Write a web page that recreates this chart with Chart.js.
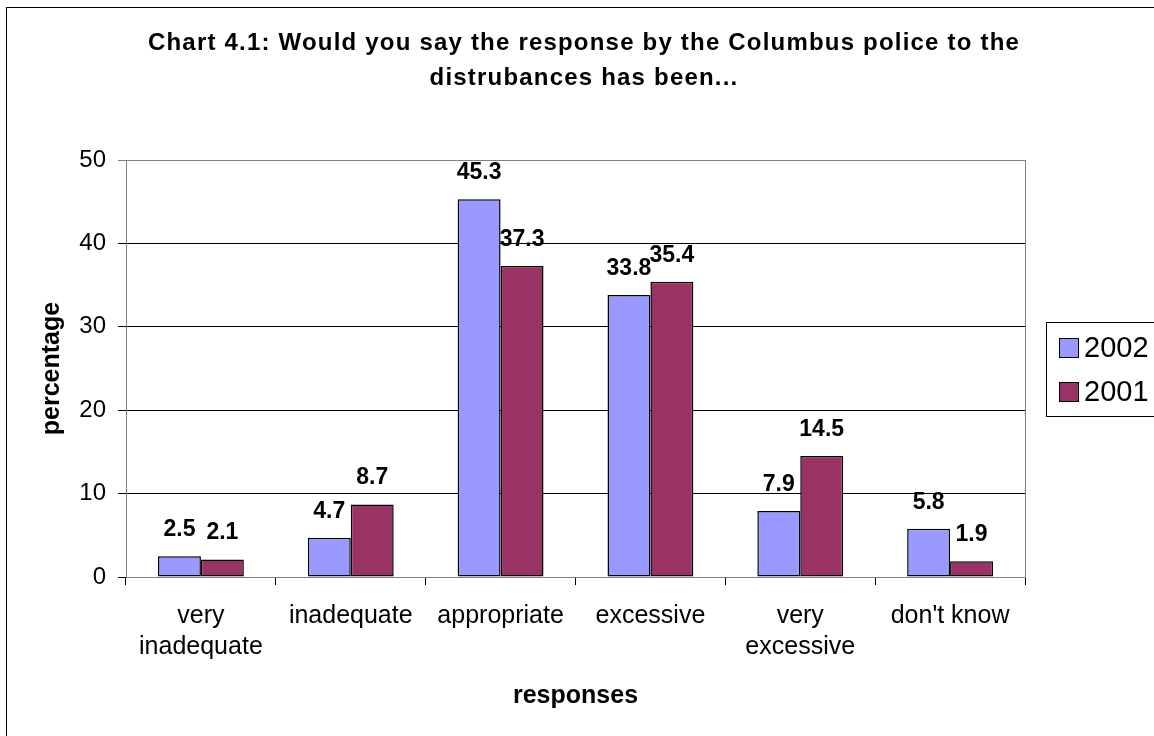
<!DOCTYPE html>
<html>
<head>
<meta charset="utf-8">
<script src="https://cdn.jsdelivr.net/npm/chart.js@4.4.1/dist/chart.umd.min.js"></script>
<style>
    html, body { margin: 0; padding: 0; background: #fff; }
    #wrap { width: 1154px; height: 736px; }
</style>
</head>
<body>
<div id="wrap"><canvas id="chart" width="1154" height="736"></canvas></div>
<script>
const categories = [["very", "inadequate"], "inadequate", "appropriate", "excessive", ["very", "excessive"], "don't know"];
const values2002 = [2.5, 4.7, 45.3, 33.8, 7.9, 5.8];
const values2001 = [2.1, 8.7, 37.3, 35.4, 14.5, 1.9];
const seriesNames = ["2002", "2001"];
const seriesColors = ["#9999FF", "#993366"];
const titleLines = ["Chart 4.1: Would you say the response by the Columbus police to the", "distrubances has been..."];

const FONT = "'Liberation Sans', Arial, sans-serif";

// white page with the chart's frame (only left/top edges are visible)
const frame = {
    id: "frame",
    beforeDraw(chart) {
        const ctx = chart.ctx;
        ctx.save();
        ctx.fillStyle = "#fff";
        ctx.fillRect(0, 0, chart.width, chart.height);
        ctx.strokeStyle = "#000";
        ctx.lineWidth = 1;
        ctx.strokeRect(6.5, 7.5, chart.width + 20, chart.height + 20);
        ctx.restore();
    },
    beforeDatasetsDraw(chart) {
        const a = chart.chartArea;
        const ctx = chart.ctx;
        ctx.save();
        ctx.strokeStyle = "#808080";
        ctx.lineWidth = 1;
        ctx.strokeRect(Math.round(a.left) + 0.5, Math.round(a.top) + 0.5, Math.round(a.right - a.left), Math.round(a.bottom - a.top));
        ctx.restore();
    }
};

// two-line title, a bit letter-spaced like the original
const spacedTitle = {
    id: "spacedTitle",
    afterDraw(chart) {
        const ctx = chart.ctx;
        ctx.save();
        ctx.font = "bold 24px " + FONT;
        ctx.letterSpacing = "1.2px";
        ctx.fillStyle = "#000";
        ctx.textAlign = "center";
        ctx.textBaseline = "alphabetic";
        titleLines.forEach((line, i) => ctx.fillText(line, 584, 50 + i * 35));
        ctx.restore();
    }
};

// value labels above each bar
const barLabels = {
    id: "barLabels",
    afterDatasetsDraw(chart) {
        const ctx = chart.ctx;
        ctx.save();
        ctx.font = "bold 23px " + FONT;
        ctx.fillStyle = "#000";
        ctx.textAlign = "center";
        ctx.textBaseline = "alphabetic";
        chart.data.datasets.forEach((ds, i) => {
            chart.getDatasetMeta(i).data.forEach((bar, j) => {
                ctx.fillText(ds.data[j].toFixed(1), bar.x, bar.y - 20);
            });
        });
        ctx.restore();
    }
};

// boxed legend on the right
const boxLegend = {
    id: "boxLegend",
    afterDraw(chart) {
        const ctx = chart.ctx;
        const x = chart.chartArea.right + 21;
        const y = 322;
        ctx.save();
        ctx.strokeStyle = "#000";
        ctx.lineWidth = 1;
        ctx.fillStyle = "#fff";
        ctx.fillRect(x + 0.5, y + 0.5, 200, 94);
        ctx.strokeRect(x + 0.5, y + 0.5, 200, 94);
        ctx.font = "29px " + FONT;
        ctx.textBaseline = "alphabetic";
        chart.data.datasets.forEach((ds, i) => {
            const ry = y + 16 + i * 44;
            ctx.fillStyle = ds.backgroundColor;
            ctx.fillRect(x + 13.5, ry + 0.5, 19, 19);
            ctx.strokeRect(x + 13.5, ry + 0.5, 19, 19);
            ctx.fillStyle = "#000";
            ctx.fillText(ds.label, x + 38, ry + 19);
        });
        ctx.restore();
    }
};

new Chart(document.getElementById("chart").getContext("2d"), {
    type: "bar",
    data: {
        labels: categories,
        datasets: [
            { label: seriesNames[0], data: values2002, backgroundColor: seriesColors[0], borderColor: "#000", borderWidth: 1.5, borderSkipped: false },
            { label: seriesNames[1], data: values2001, backgroundColor: seriesColors[1], borderColor: "#000", borderWidth: 1.5, borderSkipped: false }
        ]
    },
    options: {
        responsive: false,
        animation: false,
        datasets: { bar: { categoryPercentage: 0.573, barPercentage: 1.0 } },
        layout: { padding: { left: 16, right: 129, top: 160, bottom: 0 } },
        plugins: {
            legend: { display: false },
            tooltip: { enabled: false },
            title: { display: false }
        },
        scales: {
            x: {
                offset: true,
                afterFit: s => { s.height = 159; },
                grid: { display: true, drawOnChartArea: false, drawTicks: true, tickLength: 8, color: "#000", offset: true },
                border: { display: true, color: "#000", width: 1 },
                ticks: { color: "#000", padding: 16, maxRotation: 0, autoSkip: false, font: { family: FONT, size: 25, lineHeight: 1.24 } },
                title: { display: true, text: "responses", color: "#000", font: { family: FONT, size: 25, weight: "bold" }, padding: { top: 0, bottom: 25 } }
            },
            y: {
                min: 0,
                max: 50,
                afterFit: s => { s.width = 110; },
                grid: { color: c => (c.tick && c.tick.value === 50 ? "#808080" : "#000"), tickLength: 8, drawTicks: true },
                border: { display: true, color: "#000", width: 1 },
                ticks: { stepSize: 10, color: "#000", padding: 12, font: { family: FONT, size: 24 } },
                title: { display: true, text: "percentage", color: "#000", font: { family: FONT, size: 25, weight: "bold" }, padding: { top: 21, bottom: 0 } }
            }
        }
    },
    plugins: [frame, spacedTitle, barLabels, boxLegend]
});
</script>
</body>
</html>
